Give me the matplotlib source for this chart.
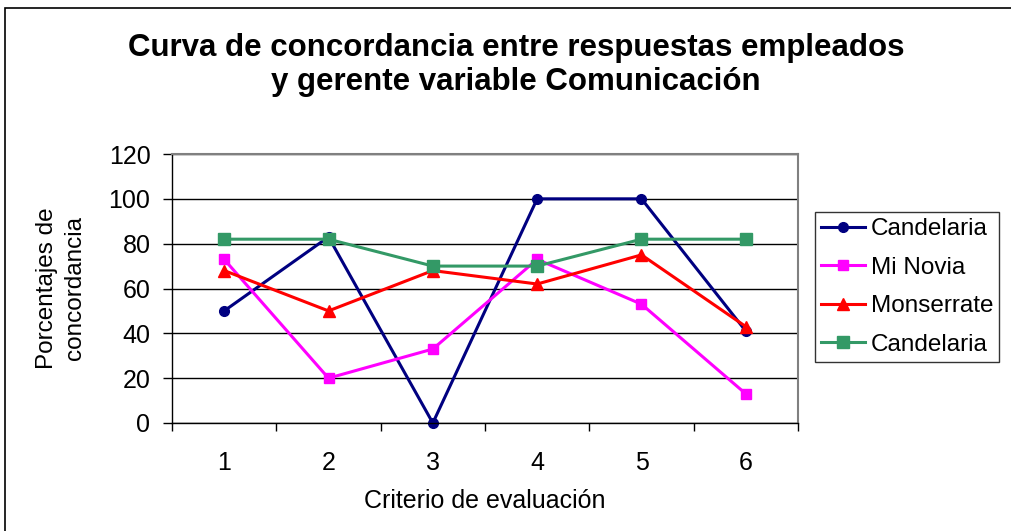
import matplotlib
matplotlib.use("Agg")
import matplotlib.pyplot as plt
from matplotlib.patches import Rectangle
from matplotlib.ticker import FixedLocator

categories = [1, 2, 3, 4, 5, 6]
candelaria = [50, 83, 0, 100, 100, 41]
mi_novia = [73, 20, 33, 73, 53, 13]
monserrate = [68, 50, 68, 62, 75, 43]
candelaria2 = [82, 82, 70, 70, 82, 82]
series_names = ["Candelaria", "Mi Novia", "Monserrate", "Candelaria"]
y_ticks = [0, 20, 40, 60, 80, 100, 120]

plt.rcParams['font.family'] = ['Liberation Sans', 'DejaVu Sans']

fig = plt.figure(figsize=(10.11, 5.31), dpi=100)
fig.patches.append(Rectangle((5/1011, -0.01), 1.1, (531-8)/531 + 0.01, transform=fig.transFigure,
                             fill=False, edgecolor='black', linewidth=1.2))

ax = fig.add_axes([172/1011, (531-423)/531, (798-172)/1011, (423-154)/531])

styles = [
    (candelaria, '#000080', 'o', 7),
    (mi_novia, '#FF00FF', 's', 7),
    (monserrate, '#FF0000', '^', 8),
    (candelaria2, '#339966', 's', 8),
]
for (vals, col, mk, ms), name in zip(styles, series_names):
    ax.plot(categories, vals, color=col, marker=mk, markersize=ms, linewidth=2.2,
            label=name, clip_on=False)

ax.set_xlim(0.5, 6.5)
ax.set_ylim(0, 120)
ax.set_yticks(y_ticks)
ax.set_xticks(categories)
ax.xaxis.set_minor_locator(FixedLocator([0.5, 1.5, 2.5, 3.5, 4.5, 5.5, 6.5]))
ax.tick_params(axis='x', which='major', length=0, labelsize=18, pad=20)
ax.tick_params(axis='x', which='minor', length=6, width=1, direction='out')
ax.tick_params(axis='y', which='major', length=6.5, width=1, direction='out', labelsize=18, pad=9)
ax.yaxis.grid(True, color='black', linewidth=1)
ax.set_axisbelow(True)
for s in ['top', 'right']:
    ax.spines[s].set_color('#808080')
    ax.spines[s].set_linewidth(1.5)
for s in ['left', 'bottom']:
    ax.spines[s].set_color('black')
    ax.spines[s].set_linewidth(1)

ax.set_xlabel("Criterio de evaluación", fontsize=18, labelpad=10)
ax.set_ylabel("Porcentajes de\nconcordancia", fontsize=17.5, labelpad=16, linespacing=1.35)

fig.text(516/1011, 1 - 65/531, "Curva de concordancia entre respuestas empleados\ny gerente variable Comunicación",
         ha='center', va='center', fontsize=22.5, fontweight='bold', linespacing=1.2)

leg = ax.legend(loc='upper left', bbox_to_anchor=(815/1011, 1 - 212/531), bbox_transform=fig.transFigure,
                fontsize=17.5, frameon=True, fancybox=False, edgecolor='black', handlelength=1.8,
                borderpad=0.25, labelspacing=0.68, handletextpad=0.25, borderaxespad=0)
leg.get_frame().set_linewidth(1)

fig.savefig("out.png", dpi=100)
